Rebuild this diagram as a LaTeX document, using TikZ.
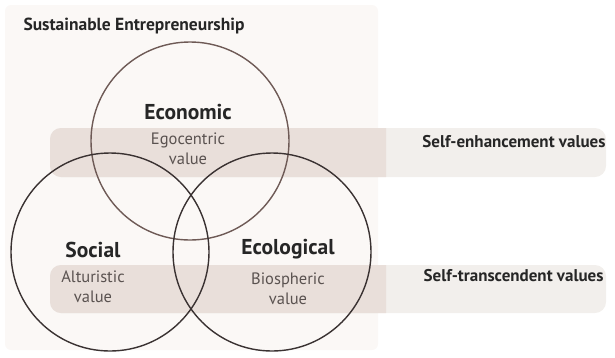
\documentclass[tikz,border=0pt]{standalone}
\usepackage{fontspec}
\setmainfont{PT Sans}
\usepackage{tikz}
\usetikzlibrary{positioning}
\definecolor{panelbg}{HTML}{FBF8F6}
\definecolor{banddark}{HTML}{E9DFDA}
\definecolor{bandlight}{HTML}{F2EFEC}
\definecolor{ecoring}{HTML}{6E5A56}
\definecolor{darkring}{HTML}{3A3232}
\definecolor{valtext}{HTML}{5A5250}

\begin{document}
\begin{tikzpicture}[x=1pt,y=-1pt,
  ring/.style={circle,draw=#1,line width=1.4pt,minimum size=198pt,inner sep=0pt},
  head/.style={font=\fontsize{21.5}{22}\selectfont\bfseries,text=black!85},
  val/.style={font=\fontsize{16.5}{20}\selectfont,text=valtext,align=center},
  side/.style={font=\fontsize{17}{18}\selectfont\bfseries,text=black!85,anchor=east}]
\useasboundingbox (0,0) rectangle (615,357);
% background panel and bands
\fill[panelbg,rounded corners=6pt] (5,5) rectangle (378,350);
\fill[bandlight,rounded corners=11pt] (50,128) rectangle (606,177);
\fill[bandlight,rounded corners=11pt] (50,265) rectangle (606,313);
\begin{scope}
\clip (0,0) rectangle (386,357);
\fill[banddark,rounded corners=11pt] (50,128) rectangle (606,177);
\fill[banddark,rounded corners=11pt] (50,265) rectangle (606,313);
\end{scope}
% circles
\node[ring=ecoring] (econ) at (190,141) {};
\node[ring=darkring] (soc) at (110,252) {};
\node[ring=darkring] (ecol) at (272,252) {};
% labels
\node[font=\fontsize{17.5}{18}\selectfont\bfseries,text=black!85,anchor=west] (title) at (20,26) {Sustainable Entrepreneurship};
\node[head] (econh) at (188,112) {Economic};
\node[val,below=6pt of econh] (econv) {Egocentric\\value};
\node[head] (soch) at (93,250) {Social};
\node[val,below=6pt of soch] (socv) {Alturistic\\value};
\node[head] (ecolh) at (288,249) {Ecological};
\node[val,below=7pt of ecolh] (ecolv) {Biospheric\\value};
\node[side] (enh) at (609,142) {Self-enhancement values};
\node[side] (trans) at (607,276) {Self-transcendent values};
\end{tikzpicture}
\end{document}
